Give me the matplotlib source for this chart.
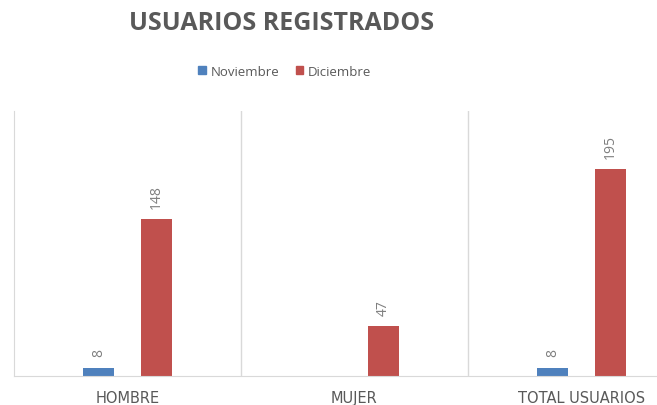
import matplotlib.pyplot as plt
import numpy as np
from matplotlib.patches import Patch

categories = ["HOMBRE", "MUJER", "TOTAL USUARIOS"]
noviembre = [8, np.nan, 8]
diciembre = [148, 47, 195]

BLUE = "#4F81BD"
RED = "#C0504D"
TEXT = "#595959"
GRID = "#D9D9D9"

fig = plt.figure(figsize=(6.57, 4.06), dpi=100)
# the chart is cut off on the right, so the axes runs past the figure edge
ax = fig.add_axes([14 / 657, 29 / 406, 681 / 657, 265 / 406])

x = np.arange(len(categories))
w = 0.137
off = 0.128
b1 = ax.bar(x - off, noviembre, w, color=BLUE)
b2 = ax.bar(x + off, diciembre, w, color=RED)

for bars, vals in ((b1, noviembre), (b2, diciembre)):
    for rect, v in zip(bars, vals):
        if np.isnan(v):
            continue
        ax.annotate(f"{v:g}", (rect.get_x() + rect.get_width() / 2, v),
                    xytext=(0, 8), textcoords="offset points",
                    ha="center", va="bottom", rotation=90,
                    fontsize=10, color="#7F7F7F", family="Open Sans")

ax.set_xlim(-0.5, len(categories) - 0.5)
ax.set_ylim(0, 250)
for xv in np.arange(0.5, len(categories) - 0.5):
    ax.axvline(xv, color=GRID, lw=1, zorder=0)

for s in ("top", "right"):
    ax.spines[s].set_visible(False)
ax.spines["left"].set_color(GRID)
ax.spines["bottom"].set_color(GRID)
ax.set_yticks([])
ax.set_xticks(x)
ax.set_xticklabels(categories, fontsize=10.5, color=TEXT, family="DejaVu Sans")
ax.tick_params(axis="x", length=0, pad=10)

fig.text(282 / 657, 1 - 23 / 406, "USUARIOS REGISTRADOS", ha="center", va="center",
         fontsize=18, fontweight="bold", color=TEXT, family="Open Sans")

handles = [Patch(color=BLUE, label="Noviembre"), Patch(color=RED, label="Diciembre")]
fig.legend(handles=handles, loc="center", bbox_to_anchor=(285 / 657, 1 - 72 / 406),
           ncol=2, frameon=False, labelcolor=TEXT,
           handlelength=0.55, handleheight=0.6, handletextpad=0.4, columnspacing=1.2,
           prop={"family": "Open Sans", "size": 9.5})

fig.savefig("out.png", dpi=100)
